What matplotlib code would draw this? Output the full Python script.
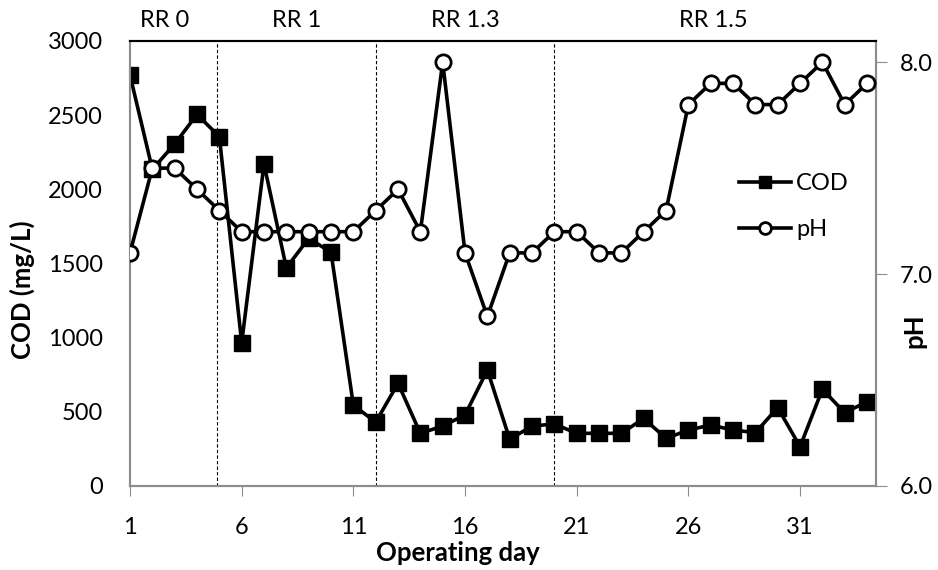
import numpy as np
import matplotlib.pyplot as plt

days = np.arange(1, 35)
cod = [2770, 2135, 2305, 2505, 2355, 965, 2170, 1470, 1670, 1575,
       545, 430, 692, 355, 404, 479, 782, 315, 404, 418,
       355, 355, 355, 455, 321, 377, 411, 377, 360, 528,
       265, 652, 494, 568]
ph = [7.1, 7.5, 7.5, 7.4, 7.3, 7.2, 7.2, 7.2, 7.2, 7.2,
      7.2, 7.3, 7.4, 7.2, 8.0, 7.1, 6.8, 7.1, 7.1, 7.2,
      7.2, 7.1, 7.1, 7.2, 7.3, 7.8, 7.9, 7.9, 7.8, 7.8,
      7.9, 8.0, 7.8, 7.9]
phase_bounds = [4.9, 12.0, 20.0]
phase_labels = ['RR 0', 'RR 1', 'RR 1.3', 'RR 1.5']
phase_label_x = [2.57, 8.48, 16.0, 27.1]

plt.rcParams['font.family'] = ['Lato', 'DejaVu Sans']
fs = 17
lfs = 18.5

fig = plt.figure(figsize=(9.38, 5.70), dpi=100)
ax = fig.add_axes([0.1386, 0.1474, 0.7953, 0.7807])
ax2 = ax.twinx()

l1, = ax.plot(days, cod, color='black', lw=2.6, marker='s', ms=11.5,
              mfc='black', mec='black', label='COD', zorder=3)
l2, = ax2.plot(days, ph, color='black', lw=2.6, marker='o', ms=11,
               mfc='white', mec='black', mew=2, label='pH', zorder=3)

for b in phase_bounds:
    ax.axvline(b, color='black', lw=0.8, ls=(0, (3, 2)), zorder=1)
for x, t in zip(phase_label_x, phase_labels):
    ax.text(x, 1.045, t, transform=ax.get_xaxis_transform(), ha='center',
            va='center', fontsize=fs)

ax.set_xlim(1, 34.4)
ax.set_ylim(0, 3000)
ax2.set_ylim(6, 8.1)
ax.set_xticks([1, 6, 11, 16, 21, 26, 31])
ax.set_yticks(np.arange(0, 3001, 500))
ax2.set_yticks([6, 7, 8])
ax2.set_yticklabels(['6.0', '7.0', '8.0'])

ax.tick_params(axis='y', length=0, pad=19.5, labelsize=fs)
ax.tick_params(axis='x', length=7, color='#8c8c8c', pad=15, labelsize=fs)
ax2.tick_params(axis='y', length=8, color='#8c8c8c', pad=9, labelsize=fs)

for a in (ax, ax2):
    for s in ('left', 'bottom', 'right'):
        a.spines[s].set_color('#8c8c8c')
        a.spines[s].set_linewidth(1.5)
    a.spines['top'].set_color('black')
    a.spines['top'].set_linewidth(1.5)

ax.set_xlabel('Operating day', fontsize=lfs, fontweight='bold')
ax.xaxis.set_label_coords(0.44, -0.123)
ax.set_ylabel('COD (mg/L)', fontsize=lfs, fontweight='bold')
ax.yaxis.set_label_coords(-0.127, 0.44)
ax2.set_ylabel('pH', fontsize=lfs, fontweight='bold', rotation=90)
ax2.yaxis.set_label_coords(1.036, 0.35)

leg = ax2.legend([l1, l2], ['COD', 'pH'], loc='center left',
                 bbox_to_anchor=(0.817, 0.628), frameon=False, fontsize=fs,
                 handlelength=2.2, handletextpad=0.2, labelspacing=1.07,
                 borderaxespad=0, borderpad=0)
for h in leg.legend_handles:
    h.set_markersize(8.5)

fig.savefig('out.png', dpi=100)
